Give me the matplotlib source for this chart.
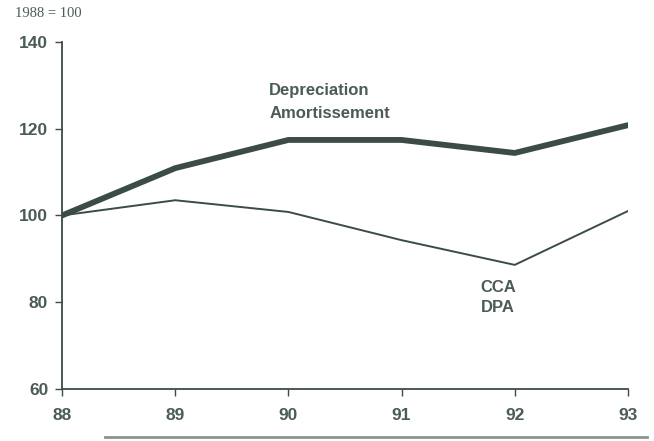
import matplotlib
matplotlib.use("Agg")
import matplotlib.pyplot as plt
from matplotlib.lines import Line2D

# Index values, 1988 = 100
years = [88, 89, 90, 91, 92, 93]
year_labels = ["88", "89", "90", "91", "92", "93"]
depreciation = [100, 110.9, 117.4, 117.4, 114.4, 120.8]
cca = [100, 103.5, 100.8, 94.3, 88.6, 101.0]
y_ticks = [60, 80, 100, 120, 140]

ink = "#3b4c45"
text_col = "#4a5c54"

fig = plt.figure(figsize=(6.54, 4.41), dpi=100)
ax = fig.add_axes([0.095, 0.118, 0.865, 0.787])

ax.plot(years, depreciation, color=ink, lw=4.2, solid_capstyle="round")
ax.plot(years, cca, color=ink, lw=1.4)

ax.set_xlim(88, 93)
ax.set_ylim(60, 140)
ax.set_xticks(years)
ax.set_xticklabels(year_labels)
ax.set_yticks(y_ticks)

for side in ["top", "right"]:
    ax.spines[side].set_visible(False)
for side in ["left", "bottom"]:
    ax.spines[side].set_color(ink)
    ax.spines[side].set_linewidth(1.3)

ax.tick_params(axis="both", colors=ink, length=5, width=1.0, direction="out",
               labelcolor=text_col)
ax.tick_params(axis="x", pad=9)
ax.tick_params(axis="y", pad=5)
for lbl in ax.get_xticklabels() + ax.get_yticklabels():
    lbl.set_fontfamily("Liberation Sans")
    lbl.set_fontweight("bold")
    lbl.set_fontsize(12.5)

# series labels
lab = dict(fontfamily="Liberation Sans", fontweight="bold", fontsize=12,
           color=text_col, ha="left", va="center")
ax.text(89.83, 128.9, "Depreciation", **lab)
ax.text(89.83, 123.6, "Amortissement", **lab)
ax.text(91.70, 83.3, "CCA", **lab)
ax.text(91.70, 78.7, "DPA", **lab)

fig.text(0.023, 0.97, "1988 = 100", fontfamily="Liberation Serif", fontsize=10.5,
         color=text_col, ha="left", va="center")

# rule under the chart
fig.add_artist(Line2D([0.16, 0.99], [0.01, 0.01], color="#8a948f", lw=2.0))

fig.savefig("out.png", dpi=100, facecolor="white")
